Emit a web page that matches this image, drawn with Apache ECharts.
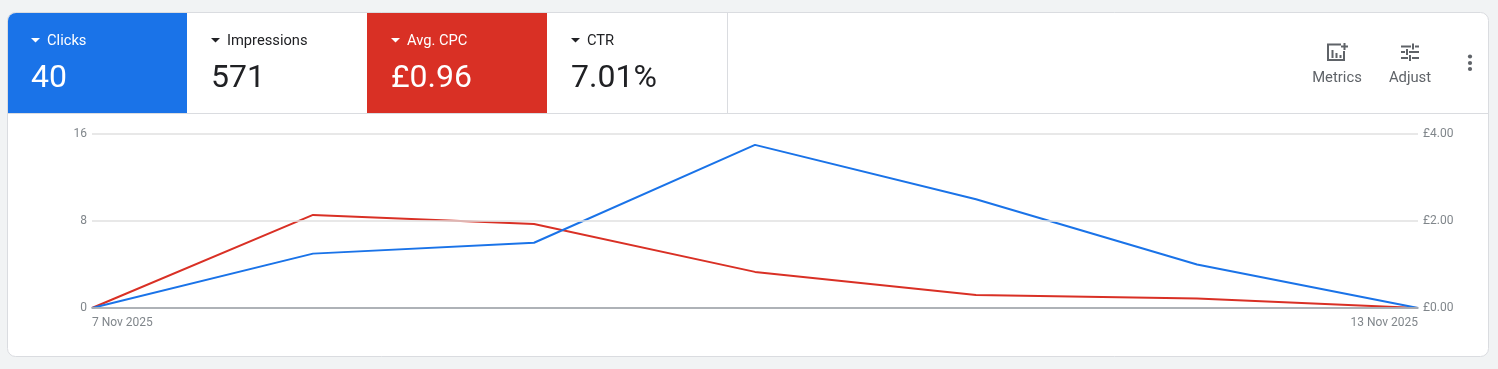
<!DOCTYPE html>
<html><head><meta charset="utf-8">
<style>html,body{margin:0;padding:0;background:#f1f3f4;width:1498px;height:369px;overflow:hidden}#c{width:1498px;height:369px}</style>
<script src="https://cdn.jsdelivr.net/npm/echarts@6/dist/echarts.min.js"></script>
</head><body><div id="c"></div>
<script>
const dates=['7 Nov 2025','8 Nov 2025','9 Nov 2025','10 Nov 2025','11 Nov 2025','12 Nov 2025','13 Nov 2025'];
const clicks=[0,5,6,15,10,4,0];
const avgCpc=[0,2.14,1.93,0.83,0.30,0.22,0];
const tabNames=['Clicks','Impressions','Avg. CPC','CTR'];
const tabValues=['40','571','£0.96','7.01%'];
const tabFills=['#1a73e8','#ffffff','#d93025','#ffffff'];
const tabInks=['#ffffff','#202124','#ffffff','#202124'];
const FONT='Roboto, sans-serif';
const g=[];
const seg=(x1,y1,x2,y2,c,w,z)=>g.push({type:'line',z:z||2,shape:{x1,y1,x2,y2},style:{stroke:c,lineWidth:w}});
// card
g.push({type:'rect',z:0,shape:{x:7.5,y:12.5,width:1481,height:344,r:8},style:{fill:'#fff',stroke:'#dadce0',lineWidth:1}});
// tabs
const tabEdges=[8,187,367,547,727];
tabNames.forEach((n,i)=>{
  const x=8+i*180;
  g.push({type:'rect',z:1,shape:{x:tabEdges[i],y:13,width:tabEdges[i+1]-tabEdges[i],height:100,r:i==0?[8,0,0,0]:0},style:{fill:tabFills[i]}});
  g.push({type:'polygon',z:2,shape:{points:[[x+23,38],[x+32,38],[x+27.5,42.5]]},style:{fill:tabInks[i]}});
  g.push({type:'text',z:2,x:x+39,y:41,style:{text:n,font:'400 14.7px '+FONT,fill:tabInks[i],verticalAlign:'middle',align:'left'}});
  g.push({type:'text',z:2,x:x+23,y:78.5,style:{text:tabValues[i],font:'400 32px '+FONT,fill:tabInks[i],verticalAlign:'middle',align:'left'}});
});
seg(727.5,13,727.5,113,'#dadce0',1,1);
seg(8,113.5,1488,113.5,'#dadce0',1,1);
// toolbar
const ink='#5f6368';
g.push({type:'text',z:2,x:1337,y:78,style:{text:'Metrics',font:'400 14.8px '+FONT,fill:ink,align:'center',verticalAlign:'middle'}});
g.push({type:'text',z:2,x:1410,y:78,style:{text:'Adjust',font:'400 14.8px '+FONT,fill:ink,align:'center',verticalAlign:'middle'}});
// metrics icon
g.push({type:'polyline',z:2,shape:{points:[[1341,44.5],[1328,44.5],[1328,60],[1344,60],[1344,51]]},style:{fill:'none',stroke:ink,lineWidth:2}});
[[1332.5,50,8],[1336.5,53,5],[1340.5,55,3]].forEach(b=>g.push({type:'rect',z:2,shape:{x:b[0]-1,y:b[1],width:2,height:b[2]},style:{fill:ink}}));
seg(1344.5,43,1344.5,50,ink,2);
seg(1341,46.5,1348,46.5,ink,2);
// adjust icon
[[1401,46.5,1411,46.5],[1415,46.5,1419,46.5],[1413,43.5,1413,49.5],[1401,52,1405,52],[1409,52,1419,52],[1407,49,1407,55],[1401,58,1408,58],[1412,58,1419,58],[1410,55,1410,61]]
  .forEach(s=>seg(s[0],s[1],s[2],s[3],ink,2));
// more dots
[56.5,63,69].forEach(y=>g.push({type:'circle',z:2,shape:{cx:1470,cy:y,r:2.1},style:{fill:ink}}));

const labelColor='#80868b';
const chart=echarts.init(document.getElementById('c'),null,{renderer:'canvas'});
chart.setOption({
  animation:false,
  backgroundColor:'#f1f3f4',
  textStyle:{fontFamily:FONT},
  graphic:{elements:g},
  grid:{left:92,right:80,top:134,height:174,containLabel:false,z:5},
  xAxis:{type:'category',data:dates,boundaryGap:false,z:5,
    axisLine:{show:true,lineStyle:{color:'#9aa0a6',width:1.5}},
    axisTick:{show:false},splitLine:{show:false},
    axisLabel:{color:labelColor,fontSize:12,fontFamily:FONT,margin:9,
      interval:(i)=>i===0||i===dates.length-1,alignMinLabel:'left',alignMaxLabel:'right',hideOverlap:false}},
  yAxis:[
    {type:'value',min:0,max:16,interval:8,position:'left',z:5,axisLine:{show:false},axisTick:{show:false},
     splitLine:{show:true,lineStyle:{color:'#e0e0e0',width:1.5}},
     axisLabel:{color:labelColor,fontSize:12,fontFamily:FONT,margin:5,padding:[4,0,0,0]}},
    {type:'value',min:0,max:4,interval:2,position:'right',z:5,axisLine:{show:false},axisTick:{show:false},splitLine:{show:false},
     axisLabel:{color:labelColor,fontSize:12,fontFamily:FONT,margin:5,padding:[4,0,0,0],formatter:v=>'£'+v.toFixed(2)}}
  ],
  series:[
    {name:'Avg. CPC',type:'line',yAxisIndex:1,data:avgCpc,symbol:'none',smooth:false,lineStyle:{color:'#d93025',width:2},z:3},
    {name:'Clicks',type:'line',yAxisIndex:0,data:clicks,symbol:'none',smooth:false,lineStyle:{color:'#1a73e8',width:2},z:4}
  ]
});
</script></body></html>
